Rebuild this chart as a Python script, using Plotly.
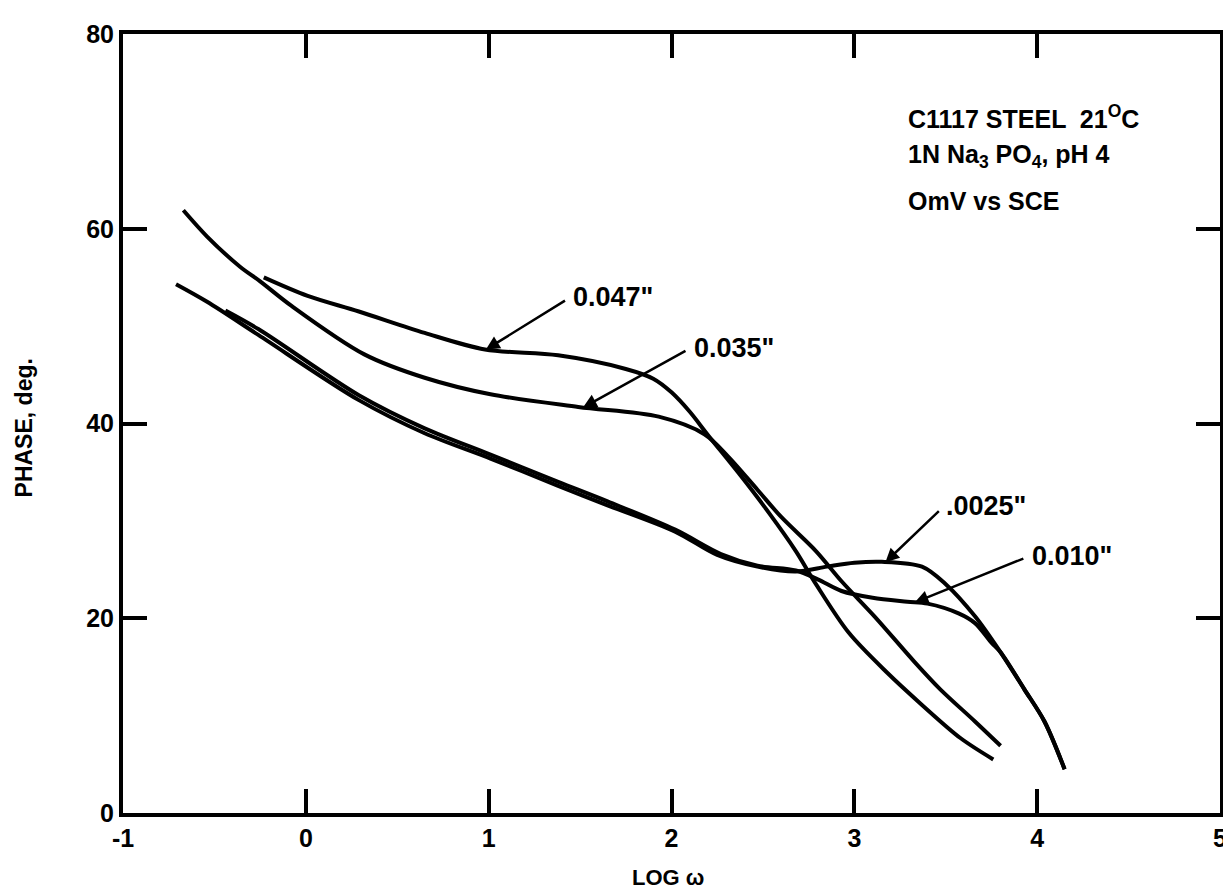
import numpy as np
import plotly.graph_objects as go

# ---- data ----
x_047 = [-0.23, 0.01, 0.29, 0.65, 0.98, 1.38, 1.75, 1.90, 2.00, 2.10, 2.20, 2.38, 2.53, 2.68, 2.79, 2.97, 3.18, 3.37, 3.58, 3.76]
y_047 = [55.0, 53.1, 51.5, 49.3, 47.6, 47.0, 45.6, 44.6, 43.2, 41.2, 38.8, 34.6, 30.9, 26.9, 23.5, 18.5, 14.4, 11.1, 7.7, 5.5]

x_035 = [-0.67, -0.54, -0.36, -0.25, -0.08, 0.32, 0.65, 1.01, 1.49, 1.93, 2.18, 2.31, 2.47, 2.60, 2.79, 2.93, 3.11, 3.33, 3.47, 3.66, 3.80]
y_035 = [61.9, 59.2, 56.1, 54.6, 52.1, 47.1, 44.7, 43.0, 41.7, 40.7, 38.9, 36.6, 33.2, 30.4, 26.9, 23.8, 20.2, 15.5, 12.7, 9.4, 6.9]

x_0025 = [-0.71, -0.54, -0.26, 0.29, 0.65, 1.01, 1.38, 1.65, 2.02, 2.25, 2.47, 2.68, 2.85, 3.00, 3.15, 3.37, 3.50, 3.66, 3.80, 3.93, 4.04, 4.15]
y_0025 = [54.3, 52.5, 49.1, 42.4, 39.0, 36.4, 33.6, 31.6, 28.9, 26.5, 25.3, 24.8, 25.3, 25.7, 25.8, 25.3, 23.5, 20.2, 16.5, 12.7, 9.4, 4.5]

x_010 = [-0.44, -0.26, 0.29, 0.65, 1.01, 1.38, 1.65, 2.02, 2.27, 2.47, 2.68, 2.80, 2.93, 3.10, 3.29, 3.40, 3.57, 3.66, 3.75, 3.80, 3.93, 4.04, 4.15]
y_010 = [51.6, 49.7, 42.9, 39.5, 36.8, 34.0, 32.0, 29.1, 26.6, 25.4, 24.9, 24.0, 22.8, 22.1, 21.7, 21.5, 20.5, 19.5, 17.5, 16.5, 12.7, 9.4, 4.5]

x_ticks = [-1, 0, 1, 2, 3, 4, 5]
y_ticks = [0, 20, 40, 60, 80]

# curve labels: text, label position (x, y), arrow tip x on the curve
labels = ['0.047"', '0.035"', '.0025"', '0.010"']
label_x = [1.45, 2.11, 3.49, 3.96]
label_y = [53.0, 47.8, 31.5, 26.4]
tip_x = [0.985, 1.516, 3.17, 3.33]

info_lines = ["C1117 STEEL  21<sup>O</sup>C", "1N Na<sub>3</sub> PO<sub>4</sub>, pH 4", "OmV vs SCE"]
info_y = [71.5, 67.5, 62.9]
info_x = 3.28

FONT = "Liberation Sans"
series = [(x_047, y_047), (x_035, y_035), (x_0025, y_0025), (x_010, y_010)]

fig = go.Figure()
for xs, ys in series:
    fig.add_trace(go.Scatter(x=xs, y=ys, mode="lines",
                             line=dict(color="black", width=4, shape="spline", smoothing=0.9),
                             showlegend=False, hoverinfo="skip"))

ann = []
for i, txt in enumerate(labels):
    xs, ys = series[i]
    ty = float(np.interp(tip_x[i], xs, ys))
    ann.append(dict(x=tip_x[i], y=ty, ax=label_x[i], ay=label_y[i], xref="x", yref="y",
                    axref="x", ayref="y", text=txt, showarrow=True, arrowhead=2,
                    arrowsize=1.1, arrowwidth=2.5, arrowcolor="black", standoff=0,
                    startstandoff=7,
                    xanchor="left", yanchor="middle",
                    font=dict(family=FONT, size=27, color="black", weight="bold")))

for t, yy in zip(info_lines, info_y):
    ann.append(dict(x=info_x, y=yy, xref="x", yref="y", text=t, showarrow=False,
                    xanchor="left", yanchor="middle",
                    font=dict(family=FONT, size=25, color="black", weight="bold")))

ann.append(dict(x=0.497, y=-0.083, xref="paper", yref="paper", text="LOG ω", showarrow=False,
                xanchor="center", yanchor="middle",
                font=dict(family=FONT, size=22, color="black", weight="bold")))
ann.append(dict(x=-0.09, y=0.494, xref="paper", yref="paper", text="PHASE, deg.", showarrow=False,
                textangle=-90, xanchor="center", yanchor="middle",
                font=dict(family=FONT, size=23, color="black", weight="bold")))

axis_common = dict(showline=True, linewidth=4, linecolor="black", mirror="ticks",
                   ticks="inside", ticklen=24, tickwidth=4, tickcolor="black",
                   showgrid=False, zeroline=False,
                   tickfont=dict(family=FONT, size=25, color="black", weight="bold"))

fig.update_layout(
    width=1231, height=894,
    paper_bgcolor="white", plot_bgcolor="white",
    margin=dict(l=115, r=19, t=15, b=89),
    xaxis=dict(range=[-1, 5], tickvals=x_ticks, ticktext=[str(v) for v in x_ticks], **axis_common),
    yaxis=dict(range=[0, 80], tickvals=y_ticks, ticktext=[str(v) for v in y_ticks], **axis_common),
    annotations=ann,
    showlegend=False,
)

fig.write_html("out.html")
